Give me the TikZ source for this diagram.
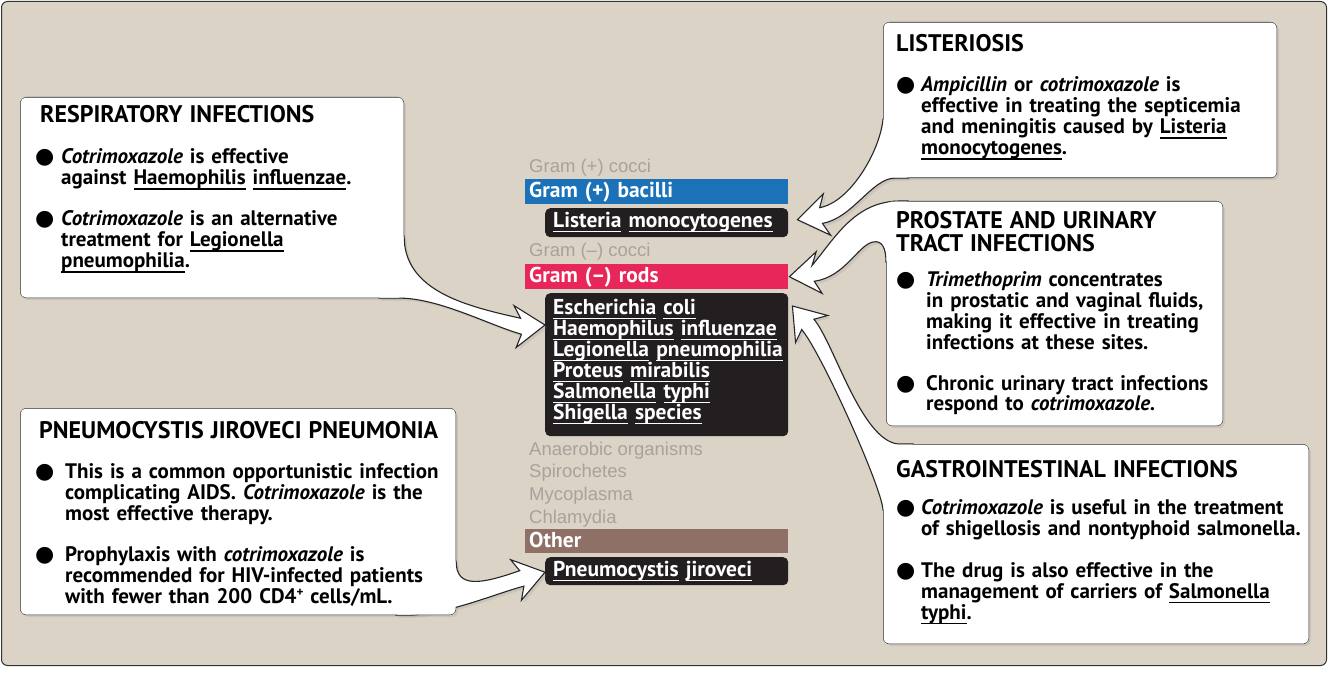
\documentclass[tikz,border=0pt]{standalone}
\usepackage{fontspec}
\setmainfont{PT Sans}
\newfontfamily\fadedfamily{Liberation Sans}
\newfontfamily\dotfamily{DejaVu Sans}
\usetikzlibrary{calc,shadows}
\definecolor{panelbg}{HTML}{DCD3C7}
\definecolor{gramposblue}{HTML}{1B72B8}
\definecolor{gramnegpink}{HTML}{E8265A}
\definecolor{otherbrown}{HTML}{8E7067}
\definecolor{orgblack}{HTML}{231F20}
\definecolor{fadedgray}{HTML}{A8A29B}
\lineskiplimit=-50pt
\newlength{\dothang}
\newcommand{\bodyfont}{\fontsize{21}{21}\selectfont\bfseries}
\newcommand{\titlefont}{\fontsize{24}{23}\selectfont\bfseries}
\newcommand{\orgfont}{\fontsize{21.5}{21}\selectfont\bfseries}
\newcommand{\fadedfont}{\fadedfamily\fontsize{18.5}{22}\selectfont}
\newcommand{\bigdot}{{\dotfamily\fontsize{22}{20}\selectfont ●}}
\newcommand{\dotitem}{\noindent\hangindent=\dothang\hangafter=1\makebox[\dothang][l]{\bigdot}\ignorespaces}
\newcommand{\orgname}[1]{\leavevmode\setbox0=\hbox{#1}\rlap{\rule[-4.8pt]{\wd0}{1.3pt}}\box0\relax}
\newcommand{\orgpair}[2]{\mbox{\orgname{#1} \orgname{#2}}}
\newcommand{\cdplus}{\raisebox{0.3em}{\fontsize{13}{13}\selectfont +}}

\begin{document}
\begin{tikzpicture}[x=1pt, y=-1pt,
  panel/.style={anchor=north west, draw=black!80, fill=panelbg, line width=1pt, rounded corners=6, inner sep=0},
  card/.style={anchor=north west, draw=black!85, fill=white, line width=1.1pt, rounded corners=6, inner sep=0,
    drop shadow={opacity=0.18, shadow xshift=2.5pt, shadow yshift=-2.5pt}},
  callout/.style={draw=black!85, fill=white, line width=1.1pt,
    drop shadow={opacity=0.18, shadow xshift=2.5pt, shadow yshift=-2.5pt}},
  refill/.style={fill=white, rounded corners=5},
  cardtext/.style={anchor=base west, inner sep=0, text width=440pt, align=left, font=\bodyfont},
  bar/.style={anchor=north west, minimum width=263, minimum height=25, inner xsep=4, inner ysep=0,
    text width=255, align=left, text=white, font=\orgfont, text height=15, text depth=3},
  orgbox/.style={anchor=north west, fill=orgblack, rounded corners=5, minimum width=243, inner xsep=8,
    text width=227, align=left, text=white, font=\orgfont},
  orgline/.style={orgbox, minimum height=29, text height=15, text depth=5},
  faded/.style={anchor=base west, inner sep=0, text=fadedgray, font=\fadedfont}
  ]
  \newcommand{\headat}[3]{
    \begin{scope}[shift={(#2)}, rotate=#3]
      \coordinate (#1-t) at (0,0);
      \coordinate (#1-u) at (-30,-21);
      \coordinate (#1-ub) at (-24,-8);
      \coordinate (#1-uc) at (-55,-8);
      \coordinate (#1-l) at (-30,21);
      \coordinate (#1-lb) at (-24,8);
      \coordinate (#1-lc) at (-55,8);
    \end{scope}}
  \useasboundingbox (0,0) rectangle (1340,676);
  \node[panel, minimum width=1325, minimum height=664] (panel) at (1,1) {};

  \node[faded] (gpcocci) at (529,173) {Gram (+) cocci};
  \node[bar, fill=gramposblue] (gpos) at (525,179) {Gram (+) bacilli};
  \node[orgline] (lmbox) at (545,208) {\orgpair{Listeria}{monocytogenes}};
  \node[faded] (gncocci) at (529,257) {Gram (–) cocci};
  \node[bar, fill=gramnegpink] (gneg) at (525,264) {Gram (–) rods};
  \node[orgbox, minimum height=143] (gnlist) at (545,293) {\orgpair{Escherichia}{coli}\\
    \orgpair{Haemophilus}{influenzae}\\
    \orgpair{Legionella}{pneumophilia}\\
    \orgpair{Proteus}{mirabilis}\\
    \orgpair{Salmonella}{typhi}\\
    \orgpair{Shigella}{species}\rule[-11pt]{0pt}{1pt}};
  \node[faded] (anaer) at (529,455) {Anaerobic organisms};
  \node[faded] (spiro) at (529,477) {Spirochetes};
  \node[faded] (myco) at (529,500) {Mycoplasma};
  \node[faded] (chlam) at (529,523) {Chlamydia};
  \node[bar, fill=otherbrown, minimum height=24] (other) at (525,529) {Other};
  \node[orgline, minimum height=28] (pcbox) at (545,557) {\orgpair{Pneumocystis}{jiroveci}};

  \coordinate (resptip) at ($(gnlist.north west)+(0,32)$);
  \coordinate (pjptip) at ($(pcbox.west)+(0,1)$);
  \coordinate (listip) at ($(lmbox.east)+(9,-3)$);
  \coordinate (protip) at ($(gneg.east)+(1,0)$);
  \coordinate (gitip) at ($(gnlist.north east)+(4,13)$);

  \node[card, minimum width=383, minimum height=200] (respcard) at (20,97) {};
  \headat{ra}{resptip}{3}
  \draw[callout] ($(respcard.south east)+(-25,-62)$) -- ($(respcard.south east)+(0,-62)$)
    .. controls ($(respcard.south east)+(0,-7)$) and ($(respcard.south east)+(62,8)$) .. (ra-ub)
    -- (ra-u) -- (ra-t) -- (ra-l) -- (ra-lb)
    .. controls ($(respcard.south east)+(85,27)$) and ($(respcard.south east)+(35,0)$) .. ($(respcard.south east)+(-5,0)$)
    -- ($(respcard.south east)+(-25,0)$) -- cycle;
  \fill[refill] ($(respcard.north west)+(0.6,0.6)$) rectangle ($(respcard.south east)+(-0.6,-0.6)$);

  \node[card, minimum width=435, minimum height=206] (pjpcard) at (20,408) {};
  \headat{pa}{pjptip}{15}
  \draw[callout] ($(pjpcard.south east)+(-25,-54)$) -- ($(pjpcard.south east)+(0,-54)$)
    .. controls ($(pjpcard.south east)+(0,-26)$) and ($(pjpcard.south east)+(25,-31)$) .. (pa-ub)
    -- (pa-u) -- (pa-t) -- (pa-l) -- (pa-lb)
    .. controls (pa-lc) and ($(pjpcard.south east)+(-5,-2)$) .. ($(pjpcard.south east)+(-45,0)$)
    -- ($(pjpcard.south east)+(-60,0)$) -- cycle;
  \fill[refill] ($(pjpcard.north west)+(0.6,0.6)$) rectangle ($(pjpcard.south east)+(-0.6,-0.6)$);

  \node[card, minimum width=393, minimum height=155] (liscard) at (883,22) {};
  \headat{la}{listip}{190}
  \draw[callout] ($(liscard.south west)+(25,-59)$) -- ($(liscard.south west)+(0,-59)$)
    .. controls ($(liscard.south west)+(-3,-27)$) and (la-lc) .. (la-lb)
    -- (la-l) -- (la-t) -- (la-u) -- (la-ub)
    .. controls (la-uc) and ($(liscard.south west)+(-11,0)$) .. ($(liscard.south west)+(12,0)$)
    -- ($(liscard.south west)+(25,0)$) -- cycle;
  \fill[refill] ($(liscard.north west)+(0.6,0.6)$) rectangle ($(liscard.south east)+(-0.6,-0.6)$);

  \node[card, minimum width=425, minimum height=199] (gicard) at (883,444) {};
  \headat{ga}{gitip}{130}
  \draw[callout] ($(gicard.north west)+(30,0)$) -- ($(gicard.north west)+(15,0)$)
    .. controls ($(gicard.north west)+(-22,-4)$) and (ga-lc) .. (ga-lb)
    -- (ga-l) -- (ga-t) -- (ga-u) -- (ga-ub)
    .. controls (ga-uc) and ($(gicard.north west)+(-1,44)$) .. ($(gicard.north west)+(0,66)$)
    -- ($(gicard.north west)+(30,66)$) -- cycle;
  \fill[refill] ($(gicard.north west)+(0.6,0.6)$) rectangle ($(gicard.south east)+(-0.6,-0.6)$);

  \node[card, minimum width=336, minimum height=224] (procard) at (886,201) {};
  \headat{ua}{protip}{188}
  \draw[callout] ($(procard.north west)+(22,25)$) -- ($(procard.north west)+(22,0)$) -- ($(procard.north west)+(14,0)$)
    .. controls ($(procard.north west)+(-31,0)$) and ($(procard.north west)+(-51,37)$) .. (ua-lb)
    -- (ua-l) -- (ua-t) -- (ua-u) -- (ua-ub)
    .. controls (ua-uc) and ($(procard.north west)+(-28,44)$) .. ($(procard.north west)+(-13,41)$)
    .. controls ($(procard.north west)+(-4,39)$) and ($(procard.north west)+(0,47)$) .. ($(procard.north west)+(0,61)$)
    -- ($(procard.north west)+(22,61)$) -- cycle;
  \fill[refill] ($(procard.north west)+(0.6,0.6)$) rectangle ($(procard.south east)+(-0.6,-0.6)$);

  \node[cardtext] (resptext) at (35,123) {\setlength{\dothang}{26pt}%
    \hspace*{5pt}{\titlefont RESPIRATORY INFECTIONS\par}\vspace{20pt}
    \dotitem\textit{Cotrimoxazole} is effective\newline against \orgname{Haemophilis} \orgname{influenzae}.\par\vspace{20pt}
    \dotitem\textit{Cotrimoxazole} is an alternative\newline treatment for \orgname{Legionella}\newline \orgname{pneumophilia}.\par};
  \node[cardtext] (pjptext) at (35,438) {\setlength{\dothang}{30pt}%
    \hspace*{4pt}{\titlefont PNEUMOCYSTIS JIROVECI PNEUMONIA\par}\vspace{19pt}
    \dotitem This is a common opportunistic infection\newline complicating AIDS. \textit{Cotrimoxazole} is the\newline most effective therapy.\par\vspace{20pt}
    \dotitem Prophylaxis with \textit{cotrimoxazole} is\newline recommended for HIV-infected patients\newline with fewer than 200 CD4\cdplus{} cells/mL.\par};
  \node[cardtext] (listext) at (896,52) {\setlength{\dothang}{25pt}%
    {\titlefont LISTERIOSIS\par}\vspace{19pt}
    \dotitem\textit{Ampicillin} or \textit{cotrimoxazole} is\newline effective in treating the septicemia\newline and meningitis caused by \orgname{Listeria}\newline \orgname{monocytogenes}.\par};
  \node[cardtext] (protext) at (896,229) {\setlength{\dothang}{30pt}%
    {\titlefont PROSTATE AND URINARY\\ TRACT INFECTIONS\par}\vspace{14pt}
    \dotitem\textit{Trimethoprim} concentrates\newline in prostatic and vaginal fluids,\newline making it effective in treating\newline infections at these sites.\par\vspace{19pt}
    \dotitem Chronic urinary tract infections\newline respond to \textit{cotrimoxazole.}\par};
  \node[cardtext] (gitext) at (896,477) {\setlength{\dothang}{25pt}%
    {\titlefont GASTROINTESTINAL INFECTIONS\par}\vspace{16pt}
    \dotitem\textit{Cotrimoxazole} is useful in the treatment\newline of shigellosis and nontyphoid salmonella.\par\vspace{21pt}
    \dotitem The drug is also effective in the\newline management of carriers of \orgname{Salmonella}\newline \orgname{typhi}.\par};
\end{tikzpicture}
\end{document}
